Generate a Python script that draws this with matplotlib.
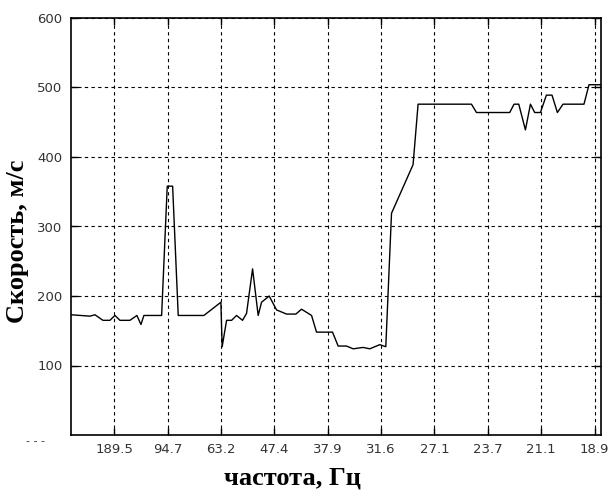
import matplotlib.pyplot as plt

# index of harmonic n (tick n -> frequency 189.5/n Hz)
n = [0.19, 0.545, 0.639, 0.788, 0.919, 1.013, 1.107, 1.294, 1.425, 1.50, 1.556,
     1.888, 1.993, 2.094, 2.199, 2.680, 2.998, 3.022, 3.105, 3.199, 3.292, 3.404,
     3.479, 3.592, 3.697, 3.760, 3.903, 4.041, 4.228, 4.403, 4.509, 4.697, 4.790,
     5.090, 5.195, 5.352, 5.476, 5.663, 5.788, 5.976, 6.088, 6.195, 6.599, 6.693,
     7.693, 7.787, 8.410, 8.491, 8.579, 8.704, 8.798, 8.878, 8.985, 9.097, 9.202,
     9.303, 9.408, 9.801, 9.895, 9.970, 10.12]
speed = [173, 171, 173, 165, 165, 172, 165, 165, 172, 159, 172,
         172, 358, 358, 172, 172, 191, 127, 165, 165, 172, 165,
         175, 239, 172, 191, 200, 180, 174, 174, 181, 172, 148,
         148, 128, 128, 124, 126, 124, 130, 127, 319, 389, 476,
         476, 464, 464, 476, 476, 439, 476, 464, 464, 489, 489,
         464, 476, 476, 504, 504, 504]

tick_pos = [1, 2, 3, 4, 5, 6, 7, 8, 9, 10]
tick_lab = ['189.5', '94.7', '63.2', '47.4', '37.9', '31.6', '27.1', '23.7', '21.1', '18.9']
y_ticks = [100, 200, 300, 400, 500, 600]

fig = plt.figure(figsize=(6.1, 4.9), dpi=100)
ax = fig.add_axes([71 / 610, 1 - 435 / 490, 530 / 610, 417 / 490])

ax.plot(n, speed, color='black', lw=1.0)

ax.set_xlim(0.19, 10.12)
ax.set_ylim(0, 600)
ax.set_xticks(tick_pos)
ax.set_xticklabels(tick_lab)
ax.set_yticks(y_ticks)
ax.tick_params(direction='in', length=5, width=1, top=True, right=True,
               labelsize=9.5, pad=6, colors='black', labelcolor='#333333')
for lab in ax.get_xticklabels() + ax.get_yticklabels():
    lab.set_family('DejaVu Sans')

ax.grid(True, color='black', linestyle=(0, (3, 3)), lw=0.8)
for s in ax.spines.values():
    s.set_linewidth(1.2)

fig.text(292 / 610, 1 - 478 / 490, 'частота, Гц', ha='center', va='center',
         family='Liberation Serif', weight='bold', fontsize=19)
fig.text(18 / 610, 1 - 241 / 490, 'Скорость, м/с', ha='center', va='center',
         rotation=90, family='Liberation Serif', weight='bold', fontsize=19)
fig.text(36 / 610, 1 - 441 / 490, '- - -', ha='center', va='center',
         family='DejaVu Sans', fontsize=8, color='#333333')

plt.savefig('out.png', dpi=100)
